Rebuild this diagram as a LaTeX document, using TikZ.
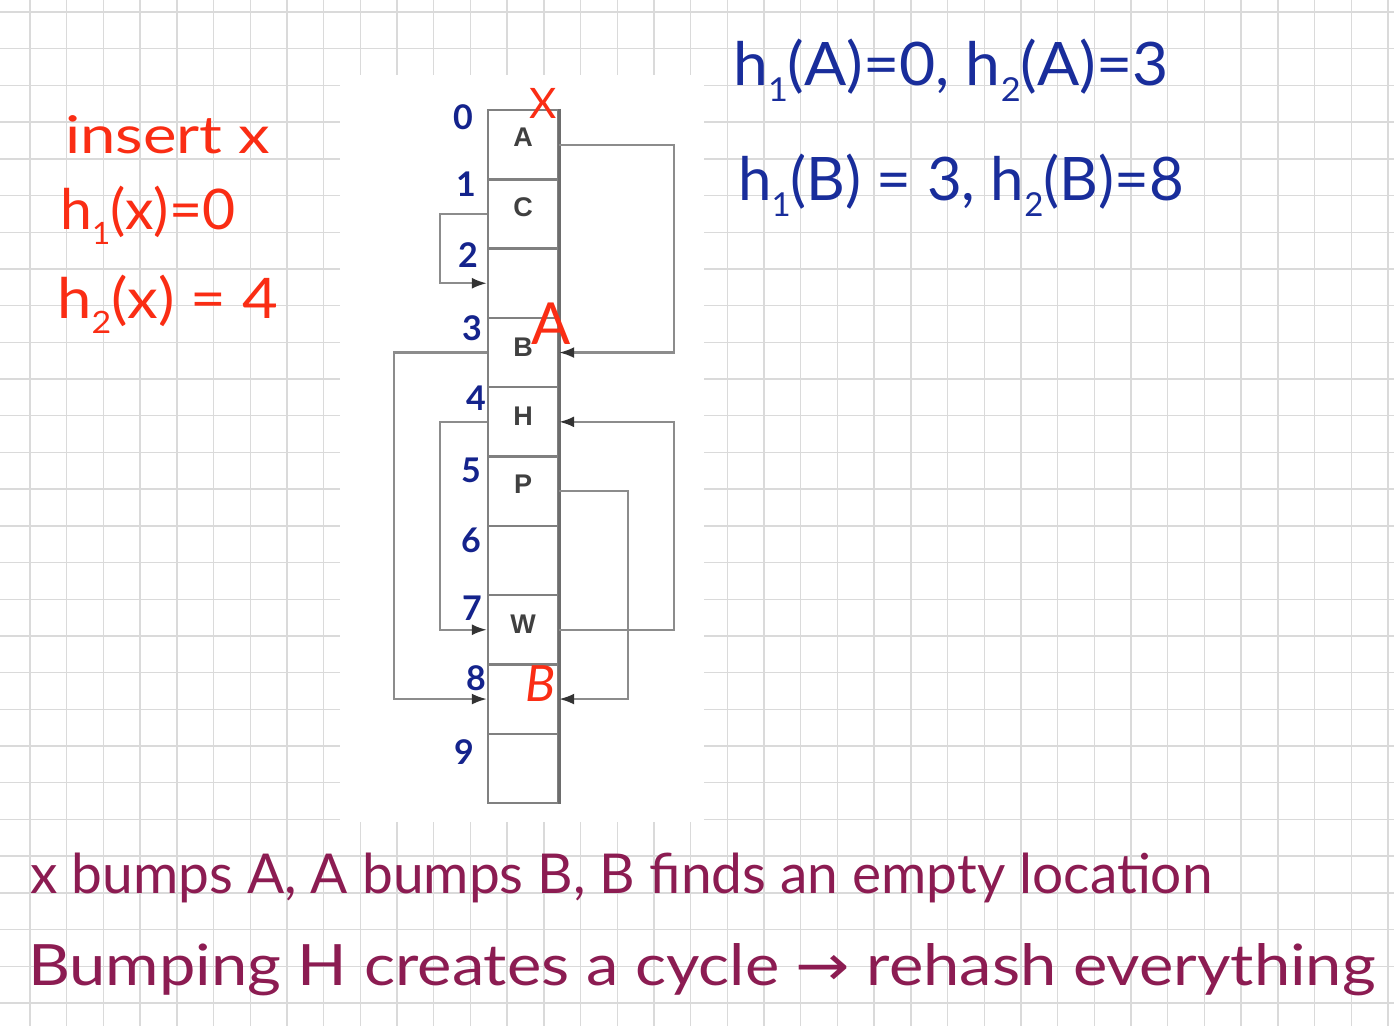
\documentclass[tikz,border=0pt]{standalone}
\usepackage{fontspec}
\setmainfont{Lato}
\newfontfamily\cellfont{Liberation Sans}
\newfontfamily\symfont{DejaVu Sans}
\usetikzlibrary{arrows.meta}
\definecolor{gridc}{RGB}{218,218,218}
\definecolor{inkred}{RGB}{250,45,20}
\definecolor{inkblue}{RGB}{25,45,155}
\definecolor{idxblue}{RGB}{20,35,140}
\definecolor{inkplum}{RGB}{140,28,82}
\definecolor{boxgray}{RGB}{128,128,128}
\definecolor{linegray}{RGB}{140,140,140}
\newcommand\hsub[1]{\raisebox{-0.28em}{\scalebox{0.55}{#1}}}
\newcommand\fsz[1]{\fontsize{#1}{#1}\selectfont}
\newcommand\wide[2]{\scalebox{#1}[1]{#2}}
\begin{document}
\begin{tikzpicture}[x=1pt,y=-1pt,
  gridline/.style={draw=gridc,line width=1.4pt},
  cell/.style={draw=boxgray,line width=2.4pt,minimum width=70pt,minimum height=69.3pt,inner sep=0pt,outer sep=1.2pt},
  letter/.style={font=\cellfont\bfseries\fsz{27},text=black!75,inner sep=0pt},
  conn/.style={draw=linegray,line width=2.2pt,-{Latex[length=15pt,width=11pt,color=black!80]}},
  idx/.style={font=\bfseries\fsz{34},text=idxblue,inner sep=0pt},
  redink/.style={text=inkred,inner sep=0pt},
  blueink/.style={text=inkblue,inner sep=0pt,anchor=base west,font=\fsz{60}},
  plum/.style={text=inkplum,inner sep=0pt,anchor=base west,font=\fsz{55}}]
\useasboundingbox (0,0) rectangle (1394,1026);
\fill[white] (0,0) rectangle (1394,1026);
% grid paper
\foreach \k in {0,...,37} \draw[gridline] ({30+36.7*\k},0) -- ({30+36.7*\k},1026);
\foreach \k in {0,...,27} \draw[gridline] (0,{12+36.7*\k}) -- (1394,{12+36.7*\k});
\fill[white] (340,75) rectangle (704,822);
% table
\foreach \i in {0,...,9} \node[cell] (c\i) at (523,{110+69.3*(\i+0.5)}) {};
\draw[boxgray!85!black,line width=3.2pt] (c0.north east) -- (c9.south east);
\node[letter] (tA) at ([yshift=7pt]c0.center) {A};
\node[letter] (tC) at ([yshift=7pt]c1.center) {C};
\node[letter] (tB) at ([yshift=5pt]c3.center) {B};
\node[letter] (tH) at ([yshift=6pt]c4.center) {H};
\node[letter] (tP) at ([yshift=7pt]c5.center) {P};
\node[letter] (tW) at ([yshift=6pt]c7.center) {W};
% connectors
\draw[conn] (c0.east) -- ++(115,0) |- (c3.east);
\draw[conn] (c1.west) -- ++(-47,0) |- (c2.west);
\draw[conn] (c3.west) -- ++(-93,0) |- (c8.west);
\draw[conn] (c4.west) -- ++(-47,0) |- (c7.west);
\draw[conn] (c7.east) -- ++(115,0) |- (c4.east);
\draw[conn] (c5.east) -- ++(69,0) |- (c8.east);
% index numbers
\node[idx] (i0) at (463,117) {0};
\node[idx] (i1) at (466,184) {1};
\node[idx] (i2) at (468,255) {2};
\node[idx] (i3) at (472,328) {3};
\node[idx] (i4) at (476,398) {4};
\node[idx] (i5) at (471,470) {5};
\node[idx] (i6) at (471,540) {6};
\node[idx] (i7) at (472,608) {7};
\node[idx] (i8) at (476,678) {8};
\node[idx] (i9) at (464,752) {9};
% red annotations on table
\node[redink,font=\fsz{42}] (rx) at (543,103) {X};
\node[redink,font=\fsz{58}] (ra) at (551,324) {A};
\node[redink,font=\itshape\fsz{50}] (rb) at (541,684) {B};
% left red text
\node[redink,anchor=base west,font=\fsz{52}] (ins) at (65,153) {\wide{1.22}{insert x}};
\node[redink,anchor=base west,font=\fsz{56}] (h1x) at (60,229) {\wide{1.02}{h\hsub{1}(x)=0}};
\node[redink,anchor=base west,font=\fsz{56}] (h2x) at (57,318) {\wide{1.1}{h\hsub{2}(x) = 4}};
% top right blue text
\node[blueink] (eqA) at (733,85) {\wide{1.04}{h\hsub{1}(A)=0, h\hsub{2}(A)=3}};
\node[blueink] (eqB) at (738,200) {h\hsub{1}(B) = 3, h\hsub{2}(B)=8};
% bottom text
\node[plum] (line1) at (30,893) {\wide{1.0}{x bumps A, A bumps B, B finds an empty location}};
\node[plum,font=\fsz{57}] (line2) at (28,985) {\wide{1.14}{Bumping H creates a cycle {\symfont →} rehash everything}};
\end{tikzpicture}
\end{document}
